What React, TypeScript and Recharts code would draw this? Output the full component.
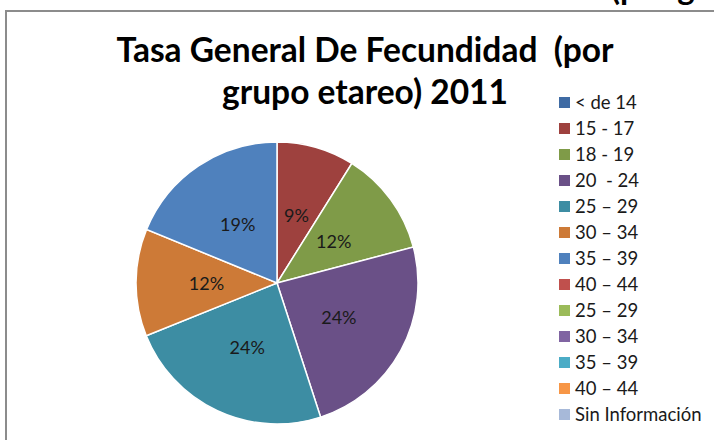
import React from 'react';
import { PieChart, Pie, Cell, Legend } from 'recharts';

const categories = ['< de 14', '15 - 17', '18 - 19', '20  - 24', '25 – 29', '30 – 34', '35 – 39', '40 – 44', '25 – 29', '30 – 34', '35 – 39', '40 – 44', 'Sin Información'];
const values = [0, 8.9, 12.0, 24.1, 23.9, 12.3, 18.8, 0, 0, 0, 0, 0, 0];
const colors = ['#3F6BA4', '#9E413E', '#7F9B48', '#6A5087', '#3D8DA3', '#CD7A37', '#4F81BD', '#C0504D', '#9BBB59', '#8064A2', '#4BACC6', '#F79646', '#A7B9D9'];
const titleLines = ['Tasa General De Fecundidad  (por', 'grupo etareo) 2011'];
const cutText = '(por g';

const data = categories.map((name, i) => ({ name, value: values[i] }));

const RAD = Math.PI / 180;
const renderLabel = (props: any) => {
  const { cx, cy, midAngle, outerRadius, percent, value } = props;
  if (!value) return null;
  const r = outerRadius * 0.5;
  const x = cx + r * Math.cos(-midAngle * RAD);
  const y = cy + r * Math.sin(-midAngle * RAD);
  return (
    <text x={x} y={y} textAnchor="middle" dominantBaseline="central" fill="#1a1a1a" fontFamily="Lato" fontSize={18}>
      {Math.round(percent * 100) + '%'}
    </text>
  );
};

const LegendContent = () => (
  <div style={{ fontFamily: 'Lato', fontSize: 18.5, color: '#1a1a1a' }}>
    {categories.map((c, i) => (
      <div key={i} style={{ height: 26, display: 'flex', alignItems: 'center', whiteSpace: 'pre' }}>
        <span style={{ display: 'inline-block', width: 11, height: 11, background: colors[i], marginRight: 5 }} />
        <span>{c}</span>
      </div>
    ))}
  </div>
);

export default function App() {
  return (
    <div style={{ position: 'absolute', left: 0, top: 0, width: 714, height: 440, overflow: 'hidden', background: '#fff' }}>
      <div style={{ position: 'absolute', left: 611, top: -33, fontFamily: 'Lato', fontWeight: 700, fontSize: 33, whiteSpace: 'pre', color: '#000' }}>{cutText}</div>
      <div style={{ position: 'absolute', left: 5, top: 10, width: 800, height: 500, border: '2px solid #8c8c8c' }} />
      <div style={{ position: 'absolute', left: 0, top: 0 }}>
        <PieChart width={714} height={440}>
          <Pie
            data={data}
            dataKey="value"
            nameKey="name"
            cx={272}
            cy={278}
            outerRadius={141}
            startAngle={90}
            endAngle={-270}
            stroke="#ffffff"
            strokeWidth={1.5}
            label={renderLabel}
            labelLine={false}
            isAnimationActive={false}
          >
            {data.map((d, i) => (
              <Cell key={i} fill={colors[i]} />
            ))}
          </Pie>
          <Legend
            layout="vertical"
            verticalAlign="top"
            align="right"
            content={() => <LegendContent />}
            wrapperStyle={{ position: 'absolute', left: 559, top: 89, width: 160 }}
          />
        </PieChart>
      </div>
      {titleLines.map((t, i) => (
        <div key={i} style={{ position: 'absolute', left: 0, width: 730, top: 28 + i * 42, textAlign: 'center', fontFamily: 'Lato', fontWeight: 700, fontSize: 33.5, whiteSpace: 'pre', color: '#000', lineHeight: '42px' }}>
          {t}
        </div>
      ))}
    </div>
  );
}
